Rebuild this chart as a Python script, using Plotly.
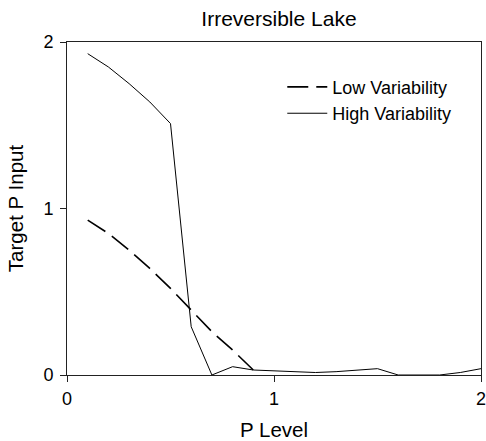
import plotly.graph_objects as go

p_high = [0.1, 0.2, 0.3, 0.4, 0.5, 0.6, 0.7, 0.8, 0.9, 1.0, 1.1, 1.2, 1.3, 1.4, 1.5, 1.6, 1.7, 1.8, 1.9, 2.0]
high_var = [1.93, 1.85, 1.75, 1.64, 1.51, 0.29, 0.0, 0.05, 0.03, 0.025, 0.018, 0.015, 0.02, 0.03, 0.038, 0.0, 0.0, 0.0, 0.015, 0.038]
p_low = [0.1, 0.2, 0.3, 0.4, 0.5, 0.6, 0.7, 0.8, 0.9]
low_var = [0.93, 0.85, 0.75, 0.64, 0.52, 0.39, 0.26, 0.15, 0.03]

font = "Arial, Liberation Sans, sans-serif"

fig = go.Figure()
fig.add_trace(go.Scatter(x=p_low, y=low_var, mode="lines", name="Low Variability",
                         line=dict(color="black", width=1.6, dash="21px,8px")))
fig.add_trace(go.Scatter(x=p_high, y=high_var, mode="lines", name="High Variability",
                         line=dict(color="black", width=1)))

fig.update_layout(
    width=486, height=441,
    margin=dict(l=67, r=5, t=42, b=66, autoexpand=False),
    paper_bgcolor="white", plot_bgcolor="white",
    font=dict(family=font, size=18, color="black"),
    title=dict(text="Irreversible Lake", x=0.512, xref="paper", xanchor="center",
               y=1 - 19 / 441, yref="container", yanchor="middle",
               font=dict(family=font, size=21, color="black")),
    showlegend=True,
    legend=dict(x=0.52, y=0.92, xanchor="left", yanchor="top", bgcolor="rgba(0,0,0,0)",
                font=dict(family=font, size=18), tracegroupgap=0, itemwidth=40),
    xaxis=dict(range=[0, 2], tickvals=[0, 1, 2], ticks="outside", ticklen=6,
               showgrid=False, zeroline=False, showline=True, linecolor="#222",
               linewidth=1, mirror=True, tickcolor="#222", automargin=False,
               ticklabeloverflow="allow", ticklabelstandoff=1,
               title=dict(text="P Level", standoff=18, font=dict(family=font, size=20.5)),
               tickfont=dict(family=font, size=18)),
    yaxis=dict(range=[0, 2], tickvals=[0, 1, 2], ticks="outside", ticklen=6,
               showgrid=False, zeroline=False, showline=True, linecolor="#222",
               linewidth=1, mirror=True, tickcolor="#222", automargin=False,
               ticklabelstandoff=3,
               title=dict(text="Target P Input", standoff=14, font=dict(family=font, size=20.5)),
               tickfont=dict(family=font, size=18)),
)

fig.write_html("out.html")
